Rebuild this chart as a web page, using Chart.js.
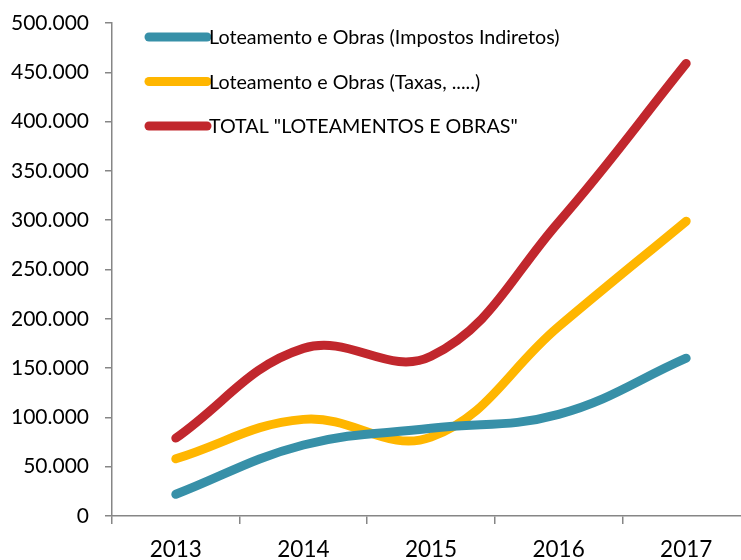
<!DOCTYPE html>
<html>
<head>
<meta charset="utf-8">
<script src="https://cdn.jsdelivr.net/npm/chart.js@4"></script>
<style>
html, body { margin: 0; padding: 0; background: #fff; overflow: hidden; }
#wrap { width: 750px; height: 560px; }
</style>
</head>
<body>
<div id="wrap"><canvas id="chart"></canvas></div>
<script>
// data
const years = ['2013', '2014', '2015', '2016', '2017'];
const impostos = [22000, 72000, 89000, 103000, 160000];
const taxas = [58000, 98000, 80000, 192000, 299000];
const total = [79000, 170000, 162000, 298000, 459000];
const seriesNames = [
    'Loteamento e Obras (Impostos Indiretos)',
    'Loteamento e Obras (Taxas, .....)',
    'TOTAL "LOTEAMENTOS E OBRAS"'
];
const seriesColors = ['#3790A8', '#FFB600', '#C1272D'];
const yMax = 500000;
const yStep = 50000;

const axisGray = '#868686';

function formatPt(v) {
    // 500000 -> 500.000
    return String(v).replace(/\B(?=(\d{3})+(?!\d))/g, '.');
}

function makeSet(i, values) {
    return {
        label: seriesNames[i],
        data: values,
        borderColor: seriesColors[i],
        backgroundColor: seriesColors[i],
        borderWidth: 9,
        borderCapStyle: 'round',
        borderJoinStyle: 'round',
        pointRadius: 0,
        tension: 0.4,
        fill: false
    };
}

// legend drawn inside the plot, top left
const insideLegend = {
    id: 'insideLegend',
    afterDraw(chart) {
        const ctx = chart.ctx;
        const area = chart.chartArea;
        ctx.save();
        chart.data.datasets.forEach((ds, i) => {
            const y = area.top + 14 + i * 44.5;
            const x0 = area.left + 37;
            const x1 = area.left + 95;
            ctx.strokeStyle = ds.borderColor;
            ctx.lineWidth = 9;
            ctx.lineCap = 'round';
            ctx.beginPath();
            ctx.moveTo(x0, y);
            ctx.lineTo(x1, y);
            ctx.stroke();
            ctx.fillStyle = '#000';
            ctx.font = '19.7px Lato';
            ctx.textBaseline = 'middle';
            ctx.textAlign = 'left';
            ctx.fillText(ds.label, x1 + 2, y + 1);
        });
        ctx.restore();
    }
};

new Chart(document.getElementById('chart').getContext('2d'), {
    type: 'line',
    data: {
        labels: years,
        datasets: [makeSet(0, impostos), makeSet(1, taxas), makeSet(2, total)]
    },
    options: {
        responsive: true,
        maintainAspectRatio: false,
        animation: false,
        layout: { padding: { top: 23, left: 0, right: 0, bottom: 0 } },
        plugins: {
            legend: { display: false },
            tooltip: { enabled: false }
        },
        scales: {
            x: {
                offset: true,
                grid: {
                    offset: true,
                    drawOnChartArea: false,
                    drawTicks: true,
                    tickLength: 8,
                    color: axisGray,
                    lineWidth: 1.5
                },
                border: { display: true, color: axisGray, width: 1.5 },
                ticks: {
                    color: '#000',
                    font: { family: 'Lato', size: 22.5 },
                    padding: 12,
                    maxRotation: 0
                },
                afterFit(scale) { scale.height = 44; }
            },
            y: {
                min: 0,
                max: yMax,
                grid: {
                    drawOnChartArea: false,
                    drawTicks: true,
                    tickLength: 7,
                    color: axisGray,
                    lineWidth: 1.5
                },
                border: { display: true, color: axisGray, width: 1.5 },
                ticks: {
                    stepSize: yStep,
                    color: '#000',
                    font: { family: 'Lato', size: 21 },
                    padding: 16,
                    callback: function(value) { return formatPt(value); }
                },
                afterFit(scale) {
                    scale.width = 112;
                    scale.paddingTop = 0;
                    scale.paddingBottom = 0;
                }
            }
        }
    },
    plugins: [insideLegend]
});
</script>
</body>
</html>
